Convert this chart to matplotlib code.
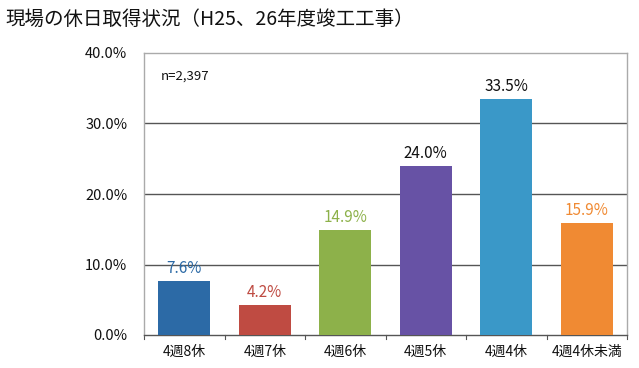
import matplotlib
matplotlib.use("Agg")
import matplotlib.pyplot as plt

plt.rcParams['font.family'] = ['Noto Sans CJK JP', 'DejaVu Sans']

categories = ["4週8休", "4週7休", "4週6休", "4週5休", "4週4休", "4週4休未満"]
values = [7.6, 4.2, 14.9, 24.0, 33.5, 15.9]
bar_colors = ["#2c6aa6", "#bf4b42", "#8db14a", "#6752a5", "#3a98c8", "#f08a33"]
label_colors = ["#2c6aa6", "#bf4b42", "#8db14a", "#111111", "#111111", "#f08a33"]
yticks = [0, 10, 20, 30, 40]
title = "現場の休日取得状況（H25、26年度竣工工事）"
note = "n=2,397"

fig = plt.figure(figsize=(6.39, 3.68), dpi=100)
W, H = 639, 368
left, right, top, bottom = 144, 627, 53, 335
ax = fig.add_axes([left / W, 1 - bottom / H, (right - left) / W, (bottom - top) / H])

x = range(len(categories))
ax.bar(x, values, width=0.64, color=bar_colors, zorder=3)
for i, v in enumerate(values):
    ax.text(i, v + 0.6, f"{v:.1f}%", ha="center", va="bottom", fontsize=11,
            color=label_colors[i], zorder=4)

ax.set_xlim(-0.5, len(categories) - 0.5)
ax.set_ylim(0, 40)
ax.set_yticks(yticks)
ax.set_yticklabels([f"{t:.1f}%" for t in yticks], fontsize=10.5, color="#111111")
ax.set_xticks(list(x))
ax.set_xticklabels(categories, fontsize=10, color="#111111")
ax.tick_params(axis="y", length=0, pad=12)
ax.tick_params(axis="x", length=0, pad=7)
for g in [10, 20, 30]:
    ax.axhline(g, color="#555555", lw=1.0, zorder=1)
for sp in ["top", "left", "right"]:
    ax.spines[sp].set_color("#aaaaaa")
    ax.spines[sp].set_linewidth(1.0)
ax.spines["bottom"].set_color("#555555")
ax.spines["bottom"].set_linewidth(1.0)
# small category separator ticks
for b in [i + 0.5 for i in range(-1, len(categories))]:
    ax.plot([b, b], [0, -0.6], color="#555555", lw=0.8, clip_on=False)

ax.text(0.035, 0.94, note, transform=ax.transAxes, fontsize=9.5, color="#111111",
        ha="left", va="top")
fig.text(5 / W, 1 - 19 / H, title, fontsize=14, ha="left", va="center", color="#111111")

fig.savefig("out.png", dpi=100)
